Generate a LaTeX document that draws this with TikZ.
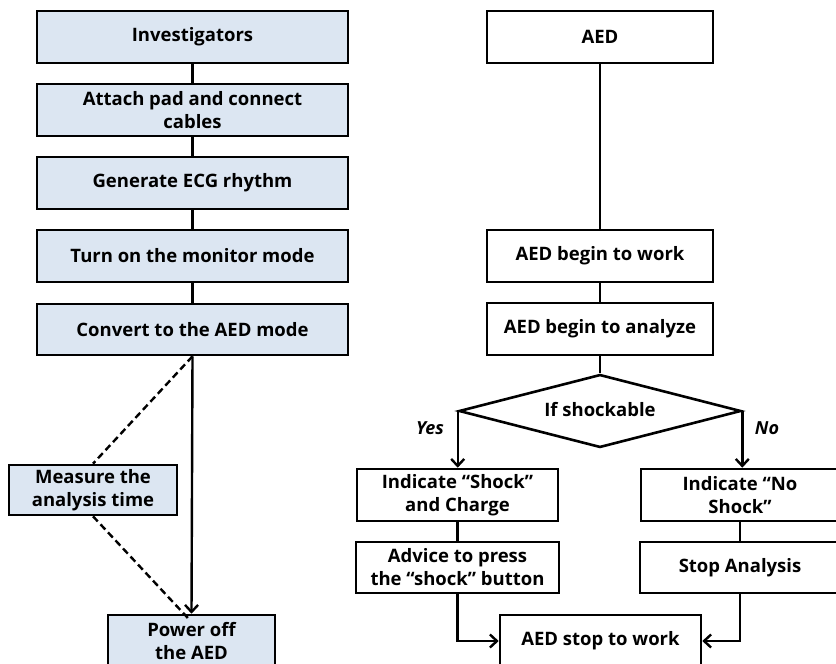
\documentclass[tikz,border=0pt]{standalone}
\usepackage{fontspec}
\setmainfont{Open Sans}
\usetikzlibrary{arrows.meta,shapes.geometric}
\definecolor{boxblue}{HTML}{DCE6F2}
\newcommand{\bfont}{\bfseries\fontsize{18.5}{23}\selectfont}
\tikzset{
  base/.style={draw=black, line width=2.6pt, align=center, font=\bfont, inner sep=0pt},
  lb/.style={base, fill=boxblue},
  wb/.style={base, fill=white},
  conn/.style={line width=2.4pt},
  arr/.style={line width=2.4pt, -{Straight Barb[length=7pt,width=13pt,line width=2.4pt]}},
  dsh/.style={line width=2.4pt, dash pattern=on 7pt off 4pt},
  lbl/.style={font=\bfseries\itshape\fontsize{18}{20}\selectfont}
}
\begin{document}
\begin{tikzpicture}[x=1pt,y=-1pt]
\useasboundingbox (0,0) rectangle (836,664);
\clip (0,0) rectangle (836,664);
% left column
\node[lb, minimum width=311pt, minimum height=52pt] (inv) at (192.5,37) {Investigators};
\node[lb, minimum width=311pt, minimum height=52pt] (att) at (192.5,110) {Attach pad and connect\\cables};
\node[lb, minimum width=311pt, minimum height=52pt] (gen) at (192.5,183) {Generate ECG rhythm};
\node[lb, minimum width=311pt, minimum height=52pt] (turn) at (192.5,256) {Turn on the monitor mode};
\node[lb, minimum width=311pt, minimum height=51pt] (conv) at (192.5,329.5) {Convert to the AED mode};
\node[lb, minimum width=168pt, minimum height=50pt] (meas) at (93,490) {Measure the\\analysis time};
\node[lb, minimum width=167pt, minimum height=60pt] (pow) at (191.5,645) {};
\node[font=\bfont, align=center] (powt) at (191.5,641) {Power off\\the AED};
% right column
\node[wb, minimum width=226pt, minimum height=52pt] (aed) at (600,37) {AED};
\node[wb, minimum width=226pt, minimum height=52pt] (work) at (600,256) {AED begin to work};
\node[wb, minimum width=226pt, minimum height=52pt] (ana) at (600,329) {AED begin to analyze};
\node[base, diamond, minimum width=282pt, minimum height=73pt, fill=white] (dia) at (600,411) {};
\node[font=\bfont] (diat) at (600,410) {If shockable};
\node[wb, minimum width=201pt, minimum height=52pt] (ish) at (457.5,495) {Indicate “Shock”\\and Charge};
\node[wb, minimum width=203pt, minimum height=51pt] (adv) at (457.5,567.5) {Advice to press\\the “shock”\ button};
\node[wb, minimum width=198pt, minimum height=52pt] (ins) at (740,495) {Indicate “No\\Shock”};
\node[wb, minimum width=200pt, minimum height=51pt] (stop) at (740,567.5) {Stop Analysis};
\node[wb, minimum width=201pt, minimum height=60pt] (stw) at (600.5,645) {};
\node[font=\bfont] (stwt) at (600.5,641) {AED stop to work};
\node[lbl] (yes) at (430,428) {Yes};
\node[lbl] (no) at (767,428) {No};
% connectors left
\draw[conn] (inv) -- (att);
\draw[conn] (att) -- (gen);
\draw[conn] (gen) -- (turn);
\draw[conn] (turn) -- (conv);
\draw[arr] (conv.south) -- (pow.north);
\draw[dsh] (conv.south) -- (meas.north);
\draw[dsh] (meas.south) -- ([xshift=-3pt,yshift=-5pt]pow.north);
% connectors right
\draw[conn] (aed) -- (work);
\draw[conn] (work) -- (ana);
\draw[conn] (ana) -- (dia.north);
\draw[arr] (dia.west) -- (dia.west |- ish.north);
\draw[arr] (dia.east) -- (dia.east |- ins.north);
\draw[conn] (ish) -- (adv);
\draw[conn] (ins) -- (stop);
\draw[arr] (adv.south) |- (stwt -| stw.west);
\draw[arr] (stop.south) |- (stwt -| stw.east);
\end{tikzpicture}
\end{document}
